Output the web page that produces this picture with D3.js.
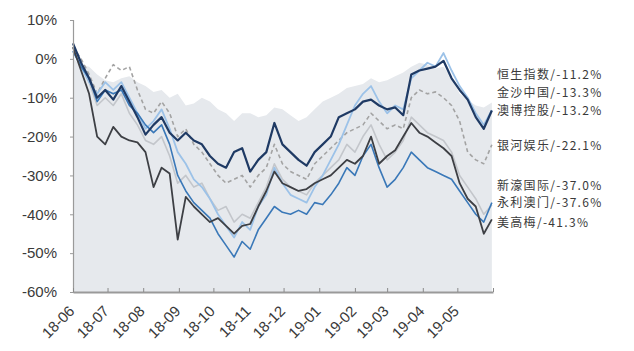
<!DOCTYPE html>
<html>
<head>
<meta charset="utf-8">
<script src="https://cdn.jsdelivr.net/npm/d3@7"></script>
<style>
  html, body { margin: 0; padding: 0; background: #ffffff; }
  svg { display: block; }
</style>
</head>
<body>
<svg id="chart" width="634" height="351"></svg>
<script>
// Weekly closing dates, 2018-06-01 to 2019-05-31
const dates = [
  "2018-06-01","2018-06-08","2018-06-15","2018-06-22","2018-06-29",
  "2018-07-06","2018-07-13","2018-07-20","2018-07-27",
  "2018-08-03","2018-08-10","2018-08-17","2018-08-24","2018-08-31",
  "2018-09-07","2018-09-14","2018-09-21","2018-09-28",
  "2018-10-05","2018-10-12","2018-10-19","2018-10-26",
  "2018-11-02","2018-11-09","2018-11-16","2018-11-23","2018-11-30",
  "2018-12-07","2018-12-14","2018-12-21","2018-12-28",
  "2019-01-04","2019-01-11","2019-01-18","2019-01-25",
  "2019-02-01","2019-02-08","2019-02-15","2019-02-22",
  "2019-03-01","2019-03-08","2019-03-15","2019-03-22","2019-03-29",
  "2019-04-05","2019-04-12","2019-04-19","2019-04-26",
  "2019-05-03","2019-05-10","2019-05-17","2019-05-24","2019-05-31"
];

// Cumulative change (%) since 2018-06-01
const hsi = [0,-1.5,-2,-4,-5.5,-6,-5,-4.5,-6,-7,-8.5,-8,-10,-9,-12,-11.5,-10,-11,-13,-14,-16,-14,-14,-15,-14.5,-12.5,-13,-14.5,-16,-15,-13,-11,-10,-9,-7.5,-7,-6.5,-5,-6,-5.5,-4.5,-3.5,-2,-1,-1.5,-2.5,-2,-5,-9,-10.5,-12,-12.5,-11.2];
const sands = [4,-1,-5,-10,-8,-10.5,-7,-11,-15,-19.5,-17,-15,-19,-21,-19,-21,-22,-25,-27,-28,-24,-23,-29,-26,-24,-16.5,-22,-24,-26,-27.5,-24,-22,-20,-15,-14,-13,-11,-10.5,-12,-13,-12.5,-14.5,-4,-3,-2.5,-2,-0.5,-5,-8,-10.5,-15,-18,-13.3];
const sjm = [2,-2,-6,-9,-6,-8,-6,-10,-14,-18,-16,-13,-18,-24,-27,-31,-33,-36,-40,-43,-46,-42,-44,-38,-35,-28,-32,-35,-36,-37,-33,-30,-26,-22,-17,-12,-9,-7,-11,-14,-12,-13,-5,-3,-1,-2,1.5,-3,-7,-10,-14,-17,-13.2];
const galaxy = [3,0,-4,-9,-5,-1.5,-3,-2,-8,-13,-14,-11,-14,-20,-18,-22,-24,-27,-30,-32,-31,-30,-33,-30,-28,-22,-27,-29,-30,-31,-27,-25,-23,-21,-19,-18,-17,-14,-16,-18,-17,-18,-10,-8,-9,-8.5,-10,-12,-16,-24,-26,-27,-22.1];
const melco = [2,-2,-5,-11,-8,-9,-8,-12,-14,-17,-19,-17,-22,-30,-34,-37,-39,-41,-45,-48,-51,-47,-49,-44,-41,-38,-39.5,-40,-39,-40,-37,-37.5,-35,-32,-28,-30,-25,-22,-28,-33,-31,-28,-24,-26,-28,-29,-30,-31,-34,-37,-40,-42,-37.0];
const wynn = [3,-1,-6,-12,-10,-12,-9,-14,-17,-21,-22,-20,-25,-32,-30,-33,-32,-36,-39,-38,-42,-40,-41,-37,-33,-27,-31,-33,-34,-35,-32,-30,-28,-26,-22,-24,-20,-17,-22,-26,-24,-21,-15,-17,-19,-20,-21,-24,-30,-33,-36,-40,-37.6];
const mgm = [3,-3,-9,-20,-22,-17.5,-20,-21,-21.5,-24,-33,-28,-29.5,-46.5,-35.5,-38,-40,-42,-41,-43,-45,-43,-42.5,-38,-34,-29,-32,-33,-34,-33.5,-32,-31,-30,-28,-26,-27,-25,-20,-27,-25,-23.5,-20,-16.5,-19,-20,-21.5,-23,-25,-32,-36,-38,-45,-41.3];

// Right-hand labels and their vertical anchors (percent)
const labelNames = ["恒生指数/-11.2%","金沙中国/-13.3%","澳博控股/-13.2%","银河娱乐/-22.1%","新濠国际/-37.0%","永利澳门/-37.6%","美高梅/-41.3%"];
const labelLevels = [-4.1,-8.7,-13.3,-22.4,-32.7,-37.1,-42.3];

const monthTicks = ["2018-06-01","2018-07-01","2018-08-01","2018-09-01","2018-10-01","2018-11-01","2018-12-01","2019-01-01","2019-02-01","2019-03-01","2019-04-01","2019-05-01","2019-06-01"];
const yTicks = [10,0,-10,-20,-30,-40,-50,-60];

const parse = d3.timeParse("%Y-%m-%d");
const xDates = dates.map(parse);

const svg = d3.select("#chart");
const plotLeft = 73, plotRight = 493, plotTop = 20, plotBottom = 292;

const x = d3.scaleTime().domain([parse("2018-06-01"), parse("2019-06-01")]).range([plotLeft, plotRight]);
const y = d3.scaleLinear().domain([-60, 10]).range([plotBottom, plotTop]);

// Hang Seng as a filled area
const area = d3.area()
  .x((d, i) => x(xDates[i]))
  .y0(y(-60))
  .y1(d => y(d));
svg.append("path")
  .datum(hsi)
  .attr("d", area)
  .attr("fill", "#e6e9ed");

const line = d3.line()
  .x((d, i) => x(xDates[i]))
  .y(d => y(d));

const series = [
  { values: wynn,   color: "#c3c6cb", width: 1.6, dash: null },
  { values: galaxy, color: "#a3a3a3", width: 1.6, dash: "4,3" },
  { values: sjm,    color: "#9cc2e8", width: 1.8, dash: null },
  { values: melco,  color: "#3a78b8", width: 1.6, dash: null },
  { values: mgm,    color: "#3d3f44", width: 1.8, dash: null },
  { values: sands,  color: "#1f3a64", width: 2.2, dash: null }
];

series.forEach(s => {
  svg.append("path")
    .datum(s.values)
    .attr("d", line)
    .attr("fill", "none")
    .attr("stroke", s.color)
    .attr("stroke-width", s.width)
    .attr("stroke-linejoin", "round")
    .attr("stroke-dasharray", s.dash);
});

// Y axis
const yAxis = svg.append("g")
  .attr("transform", `translate(${plotLeft},0)`)
  .call(d3.axisLeft(y).tickValues(yTicks).tickSize(3).tickPadding(13).tickFormat(d => d + "%"));
yAxis.select(".domain").attr("stroke", "#9a9a9a").attr("stroke-width", 1.2);
yAxis.selectAll(".tick line").attr("stroke", "#9a9a9a");
yAxis.selectAll("text")
  .attr("font-family", "Liberation Sans, Arial, sans-serif")
  .attr("font-size", 15)
  .attr("fill", "#3a3a3a");

// X axis
const xAxis = svg.append("g")
  .attr("transform", `translate(0,${plotBottom})`)
  .call(d3.axisBottom(x)
    .tickValues(monthTicks.map(parse))
    .tickSize(4)
    .tickSizeOuter(0)
    .tickFormat(d => d.getFullYear() === 2019 && d.getMonth() === 5 ? "" : d3.timeFormat("%y-%m")(d)));
xAxis.select(".domain").attr("stroke", "#9a9a9a").attr("stroke-width", 2.2);
xAxis.selectAll(".tick line").attr("stroke", "#8a8a8a").attr("transform", "translate(0,-4)");
xAxis.selectAll("text")
  .attr("font-family", "Liberation Sans, Arial, sans-serif")
  .attr("font-size", 15)
  .attr("fill", "#3a3a3a")
  .attr("text-anchor", "end")
  .attr("dy", null)
  .attr("y", 0)
  .attr("transform", "translate(2,20) rotate(-45)");

// End-of-period labels
svg.append("g")
  .selectAll("text")
  .data(labelNames)
  .join("text")
  .attr("x", 497)
  .attr("y", (d, i) => y(labelLevels[i]))
  .attr("dy", "0.35em")
  .attr("font-family", "Noto Sans CJK SC, sans-serif")
  .attr("font-size", 12)
  .attr("letter-spacing", 1.3)
  .attr("fill", "#3a3a3a")
  .text(d => d);
</script>
</body>
</html>
